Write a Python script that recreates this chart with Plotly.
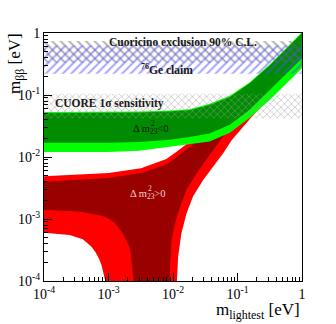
import plotly.graph_objects as go

# inverted hierarchy (dm23 < 0): m_bb band edges [eV] vs m_lightest [eV]
ih_mlight = [1e-4, 1e-3, 0.003, 0.009, 0.018, 0.037, 0.076, 0.155, 0.316, 0.646, 1.0]
ih_top_3s = [0.053, 0.053, 0.054, 0.056, 0.059, 0.072, 0.097, 0.161, 0.31, 0.65, 1.03]
ih_top_1s = [0.051, 0.051, 0.052, 0.054, 0.057, 0.069, 0.093, 0.155, 0.30, 0.63, 1.0]
ih_bot_1s = [0.017, 0.017, 0.0174, 0.019, 0.021, 0.024, 0.033, 0.058, 0.12, 0.25, 0.39]
ih_bot_3s = [0.012, 0.012, 0.0126, 0.0148, 0.0162, 0.0178, 0.0245, 0.043, 0.083, 0.174, 0.27]

# normal hierarchy (dm23 > 0): outer (3 sigma) region edges
nh3_top_m = [1e-4, 1e-3, 0.0032, 0.005, 0.0079, 0.0112, 0.02, 0.05, 0.1, 0.316, 1.0]
nh3_top = [0.0049, 0.0055, 0.0066, 0.0079, 0.0093, 0.012, 0.019, 0.0437, 0.089, 0.28, 0.89]
nh3_right_m = [1.0, 0.5, 0.25, 0.158, 0.112, 0.081, 0.060, 0.0417, 0.0295, 0.0204, 0.0162, 0.0135, 0.0120, 0.0115]
nh3_right = [0.38, 0.178, 0.071, 0.0417, 0.0275, 0.0186, 0.0115, 0.0069, 0.0043, 0.0023, 0.00123, 0.00059, 0.000245, 0.0001]
nh3_low_m = [0.00089, 0.00084, 0.00078, 0.00071, 0.00063, 0.00054, 0.0004, 0.00025, 0.0001]
nh3_low = [0.0001, 0.00013, 0.00018, 0.00023, 0.00029, 0.00036, 0.00047, 0.00055, 0.0006]

# normal hierarchy: inner (best fit) region edges
nh1_top_m = [1e-4, 1e-3, 0.0032, 0.005, 0.0079, 0.0112, 0.02, 0.05, 0.1, 0.316, 1.0]
nh1_top = [0.0040, 0.0046, 0.0055, 0.0065, 0.0076, 0.0098, 0.0158, 0.036, 0.076, 0.24, 0.76]
nh1_right_m = [1.0, 0.316, 0.158, 0.079, 0.054, 0.0417, 0.0331, 0.0234, 0.0162, 0.0129, 0.0107, 0.0095, 0.0090, 0.0089]
nh1_right = [0.5, 0.158, 0.071, 0.0316, 0.0186, 0.0129, 0.0089, 0.0055, 0.00295, 0.00158, 0.00085, 0.00046, 0.00017, 0.0001]
nh1_low_m = [0.00245, 0.00235, 0.00222, 0.0021, 0.0019, 0.00172, 0.00158, 0.00126, 0.00095, 0.00074, 0.00035, 0.0001]
nh1_low = [0.0001, 0.00017, 0.00027, 0.00036, 0.00045, 0.00055, 0.00063, 0.00087, 0.00105, 0.00115, 0.00132, 0.0014]

# experimental bands [eV]
cuoricino_band = [0.33, 0.74]
ge_claim_band = [0.22, 0.63]
cuore_band = [0.042, 0.105]

x_edges = [1e-4, 1.0]
x_ticks = [1e-4, 1e-3, 1e-2, 1e-1, 1]
x_ticktext = ["10<sup>-4</sup>", "10<sup>-3</sup>", "10<sup>-2</sup>", "10<sup>-1</sup>", "1"]
y_ticks = [1e-4, 1e-3, 1e-2, 1e-1, 1]
y_ticktext = ["10<sup>-4</sup>", "10<sup>-3</sup>", "10<sup>-2</sup>", "10<sup>-1</sup>", "1"]

SERIF = "Liberation Serif"
W, H = 336, 324
L, R, T, B = 44, 34, 33, 43


def px(x):
    return (x - L) / (W - L - R)


def py(y):
    return (H - B - y) / (H - T - B)


def area(xs, ys, color):
    return go.Scatter(x=xs, y=ys, mode="lines", fill="toself", fillcolor=color,
                      line=dict(width=0), hoverinfo="skip", showlegend=False)


def hatch(lo, hi, shape, color, size, solidity):
    return go.Scatter(x=[x_edges[0], x_edges[1], x_edges[1], x_edges[0]],
                      y=[lo, lo, hi, hi], mode="lines", fill="toself",
                      fillcolor="rgba(0,0,0,0)", line=dict(width=0),
                      fillpattern=dict(shape=shape, fgcolor=color, bgcolor="rgba(0,0,0,0)",
                                       size=size, solidity=solidity),
                      hoverinfo="skip", showlegend=False)


fig = go.Figure()

# normal hierarchy
fig.add_trace(area(nh3_top_m + nh3_right_m + nh3_low_m, nh3_top + nh3_right + nh3_low, "#ff0000"))
fig.add_trace(area(nh1_top_m + nh1_right_m + nh1_low_m, nh1_top + nh1_right + nh1_low, "#990000"))

# inverted hierarchy
fig.add_trace(area(ih_mlight + ih_mlight[::-1], ih_top_3s + ih_bot_3s[::-1], "#00ff00"))
fig.add_trace(area(ih_mlight + ih_mlight[::-1], ih_top_1s + ih_bot_1s[::-1], "#008c00"))

# experiments
fig.add_trace(hatch(cuore_band[0], cuore_band[1], "x", "#999999", 5, 0.32))
fig.add_trace(hatch(cuoricino_band[0], cuoricino_band[1], "\\", "#666666", 6, 0.32))
fig.add_trace(hatch(ge_claim_band[0], ge_claim_band[1], "/", "#5050ff", 6, 0.35))

ann = [
    dict(text="<b>Cuoricino exclusion 90% C.L.</b>", x=px(183), y=py(42), size=11.5, color="#1a1a1a"),
    dict(text="<b><sup>76</sup>Ge claim</b>", x=px(167), y=py(69), size=11.5, color="#1a1a1a"),
    dict(text="<b>CUORE 1σ sensitivity</b>", x=px(53), y=py(104), size=11.5, color="#1a1a1a", xanchor="left"),
    dict(text="Δ m<sub>23</sub>&lt;0", x=px(150), y=py(129), size=10.5, color="#111111"),
    dict(text="2", x=px(149), y=py(123), size=7.5, color="#111111", xanchor="left"),
    dict(text="Δ m<sub>23</sub>&gt;0", x=px(147), y=py(194), size=10.5, color="#f0d0d0"),
    dict(text="2", x=px(146), y=py(188), size=7.5, color="#f0d0d0", xanchor="left"),
    dict(text="m<sub>lightest</sub> [eV]", x=1.0, y=py(311), size=17, color="black", xanchor="right"),
]
for a in ann:
    fig.add_annotation(text=a["text"], x=a["x"], y=a["y"], xref="paper", yref="paper",
                       xanchor=a.get("xanchor", "center"), yanchor="middle", showarrow=False,
                       font=dict(family=SERIF, size=a["size"], color=a["color"]))

fig.add_annotation(text="m<sub>ββ</sub> [eV]", x=px(16), y=py(64), xref="paper", yref="paper",
                   textangle=-90, showarrow=False, xanchor="center", yanchor="middle",
                   font=dict(family=SERIF, size=17, color="black"))

minor_vals = [k * 10.0 ** e for e in range(-4, 0) for k in range(2, 10)]

axis_common = dict(type="log", showline=True, mirror=True, linecolor="black", linewidth=1,
                   ticks="inside", ticklen=8, tickcolor="black", showgrid=False, zeroline=False,
                   tickfont=dict(family=SERIF, size=14, color="black"),
                   minor=dict(tickvals=minor_vals, ticks="inside", ticklen=4, tickcolor="black",
                              showgrid=False))

fig.update_layout(
    width=W, height=H,
    margin=dict(l=L, r=R, t=T, b=B),
    paper_bgcolor="white", plot_bgcolor="white",
    xaxis=dict(range=[-4, 0], tickvals=x_ticks, ticktext=x_ticktext, **axis_common),
    yaxis=dict(range=[-4, 0], tickvals=y_ticks, ticktext=y_ticktext, **axis_common),
)

# the page body has a default 8px margin; drop it so the figure sits at the corner
fig.write_html("out.html", config={"displayModeBar": False},
               post_script="document.body.style.margin = '0px';")
